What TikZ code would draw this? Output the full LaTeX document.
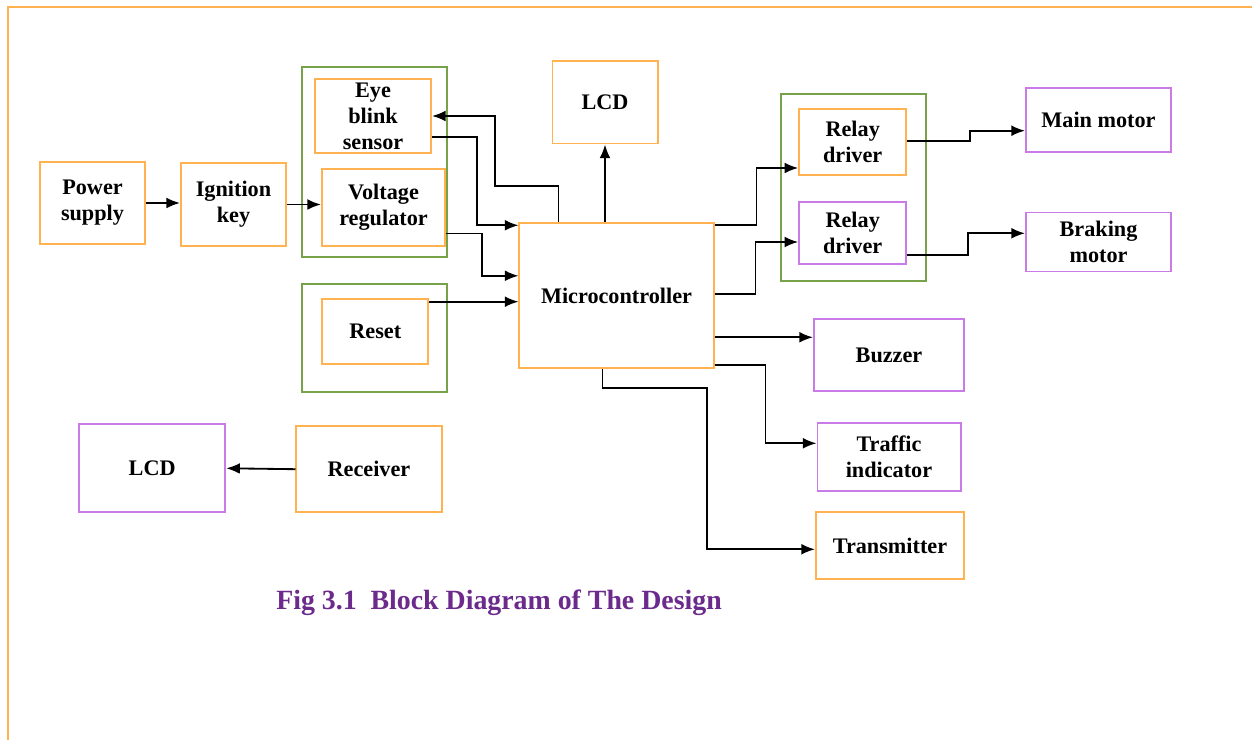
\documentclass[tikz,border=0pt]{standalone}
\usepackage{fontspec}
\setmainfont{Liberation Serif}
\usetikzlibrary{arrows.meta,calc}
\definecolor{bdOrange}{HTML}{FFB24F}
\definecolor{bdGreen}{HTML}{77A24A}
\definecolor{bdPurple}{HTML}{C97BE8}
\definecolor{bdCaption}{HTML}{6B2A8C}
\tikzset{
  blockbox/.style={
    draw=#1,
    line width=1.4pt,
    inner sep=0pt,
    align=center,
    font=\fontsize{15.8}{18.5}\selectfont\bfseries
  },
  groupbox/.style={
    draw=bdGreen,
    line width=1.3pt,
    inner sep=0pt
  },
  flow/.style={
    -{Latex[length=3.4mm,width=2.7mm]},
    line width=1.3pt,
    draw=black
  }
}

\begin{document}
\begin{tikzpicture}[x=0.025cm,y=-0.025cm]

\useasboundingbox (0,0) rectangle (1252,740);
\draw[bdOrange, line width=1.4pt] (8,740) -- (8,7) -- (1252,7);

\node[groupbox, minimum width=3.625cm, minimum height=4.75cm] (grpsense) at (374.5,162) {};
\node[groupbox, minimum width=3.625cm, minimum height=4.67cm] (grprelay) at (853.5,187.4) {};
\node[groupbox, minimum width=3.625cm, minimum height=2.7cm] (grpreset) at (374.3,338) {};

\node[blockbox=bdOrange, minimum width=2.625cm, minimum height=2.05cm] (power) at (92.5,203) {Power\\supply};
\node[blockbox=bdOrange, minimum width=2.625cm, minimum height=2.075cm] (ignition) at (233.5,204.5) {Ignition\\key};
\node[blockbox=bdOrange, minimum width=2.9cm, minimum height=1.85cm] (eye) at (373,116) {Eye\\blink\\sensor};
\node[blockbox=bdOrange, minimum width=3.075cm, minimum height=1.925cm] (volt) at (383.5,207.5) {Voltage\\regulator};
\node[blockbox=bdOrange, minimum width=2.65cm, minimum height=1.625cm] (reset) at (375.3,331.7) {Reset};

\node[blockbox=bdOrange, minimum width=2.625cm, minimum height=2.05cm] (lcdtop) at (605,102.5) {LCD};
\node[blockbox=bdOrange, minimum width=4.85cm, minimum height=3.625cm] (micro) at (616.5,295.8) {Microcontroller};

\node[blockbox=bdOrange, minimum width=2.675cm, minimum height=1.65cm] (relayone) at (852.7,142) {Relay\\driver};
\node[blockbox=bdPurple, minimum width=2.675cm, minimum height=1.55cm] (relaytwo) at (852.7,233) {Relay\\driver};
\node[blockbox=bdPurple, minimum width=3.625cm, minimum height=1.6cm] (mainmotor) at (1098.5,120.3) {Main motor};
\node[blockbox=bdPurple, minimum width=3.625cm, minimum height=1.475cm] (braking) at (1098.5,242) {Braking\\motor};

\node[blockbox=bdPurple, minimum width=3.75cm, minimum height=1.8cm] (buzzer) at (889,355.3) {Buzzer};
\node[blockbox=bdPurple, minimum width=3.575cm, minimum height=1.7cm] (traffic) at (889,456.7) {Traffic\\indicator};
\node[blockbox=bdOrange, minimum width=3.7cm, minimum height=1.675cm] (transmitter) at (890,545.7) {Transmitter};

\node[blockbox=bdPurple, minimum width=3.65cm, minimum height=2.2cm] (lcdtwo) at (152.2,468.3) {LCD};
\node[blockbox=bdOrange, minimum width=3.625cm, minimum height=2.15cm] (receiver) at (369,469.2) {Receiver};

\node[font=\fontsize{19.8}{23}\selectfont\bfseries, text=bdCaption] (caption) at (499,603) {Fig 3.1\ \ Block Diagram of The Design};

% supply chain
\draw[flow] (power.east) -- (power.east -| ignition.west);
\draw[flow] (ignition.east) -- (ignition.east -| volt.west);

% inputs to the controller
\draw[flow] ($(micro.north)+(-58,0)$) -- ++(0,-36) -| ($(eye.east)+(63,0)$) -- (eye.east);
\draw[flow] ($(eye.east)+(0,21)$) -- ++(45,0) |- ($(micro.north west)+(0,3)$);
\draw[flow] ($(volt.east)+(0,26)$) -- ++(36,0) |- ($(micro.west)+(0,-20)$);
\draw[flow] ($(reset.east)+(0,-30)$) -- ($(reset.east -| micro.west)+(0,-30)$);

% outputs
\draw[flow] (lcdtop.south |- micro.north) -- (lcdtop.south);
\draw[flow] ($(micro.north east)+(0,3)$) -- ++(42,0) |- ($(relayone.west)+(0,26)$);
\draw[flow] ($(micro.east)+(0,-1.5)$) -- ++(41,0) |- ($(relaytwo.west)+(0,9)$);
\draw[flow] ($(relayone.east)+(0,-1)$) -- ++(63,0) |- ($(mainmotor.west)+(0,10.4)$);
\draw[flow] ($(relaytwo.east)+(0,22)$) -- ++(60.5,0) |- ($(braking.west)+(0,-8.7)$);
\draw[flow] ($(micro.east)+(0,41.5)$) -- ($(buzzer.west)+(0,-18)$);
\draw[flow] ($(micro.south east)+(0,-4)$) -- ++(51,0) |- ($(traffic.west)+(0,-13.4)$);
\draw[flow] ($(micro.south)+(-14,0)$) -- ++(0,18.4) -| ($(transmitter.west)+(-108,3.6)$) -- ($(transmitter.west)+(0,3.6)$);

% remote side
\draw[flow] (receiver.west) -- (lcdtwo.east);

\end{tikzpicture}
\end{document}
